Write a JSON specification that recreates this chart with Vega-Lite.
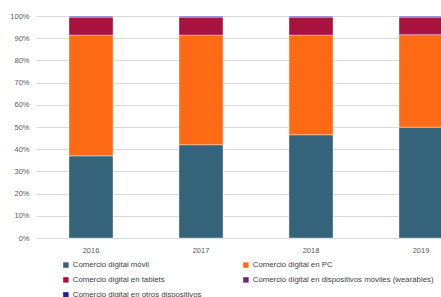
{
  "$schema": "https://vega.github.io/schema/vega-lite/v6.json",
  "width": 405,
  "height": 222,
  "autosize": {"type": "none"},
  "padding": {"left": 36, "top": 16, "right": 0, "bottom": 59},
  "background": "white",
  "config": {
    "font": "Liberation Sans",
    "view": {"stroke": null}
  },
  "data": {
    "values": [
      {"anio": "2016", "tipo": "Comercio digital móvil", "orden": 1, "valor": 37.0},
      {"anio": "2016", "tipo": "Comercio digital en PC", "orden": 2, "valor": 54.4},
      {"anio": "2016", "tipo": "Comercio digital en tablets", "orden": 3, "valor": 8.1},
      {"anio": "2016", "tipo": "Comercio digital en dispositivos móviles (wearables)", "orden": 4, "valor": 0.2},
      {"anio": "2016", "tipo": "Comercio digital en otros dispositivos", "orden": 5, "valor": 0.3},
      {"anio": "2017", "tipo": "Comercio digital móvil", "orden": 1, "valor": 42.0},
      {"anio": "2017", "tipo": "Comercio digital en PC", "orden": 2, "valor": 49.4},
      {"anio": "2017", "tipo": "Comercio digital en tablets", "orden": 3, "valor": 8.1},
      {"anio": "2017", "tipo": "Comercio digital en dispositivos móviles (wearables)", "orden": 4, "valor": 0.2},
      {"anio": "2017", "tipo": "Comercio digital en otros dispositivos", "orden": 5, "valor": 0.3},
      {"anio": "2018", "tipo": "Comercio digital móvil", "orden": 1, "valor": 46.5},
      {"anio": "2018", "tipo": "Comercio digital en PC", "orden": 2, "valor": 44.9},
      {"anio": "2018", "tipo": "Comercio digital en tablets", "orden": 3, "valor": 8.1},
      {"anio": "2018", "tipo": "Comercio digital en dispositivos móviles (wearables)", "orden": 4, "valor": 0.2},
      {"anio": "2018", "tipo": "Comercio digital en otros dispositivos", "orden": 5, "valor": 0.3},
      {"anio": "2019", "tipo": "Comercio digital móvil", "orden": 1, "valor": 49.9},
      {"anio": "2019", "tipo": "Comercio digital en PC", "orden": 2, "valor": 41.7},
      {"anio": "2019", "tipo": "Comercio digital en tablets", "orden": 3, "valor": 7.9},
      {"anio": "2019", "tipo": "Comercio digital en dispositivos móviles (wearables)", "orden": 4, "valor": 0.2},
      {"anio": "2019", "tipo": "Comercio digital en otros dispositivos", "orden": 5, "valor": 0.3}
    ]
  },
  "mark": {"type": "bar", "stroke": "white", "strokeWidth": 0.6, "strokeOpacity": 0.6},
  "encoding": {
    "x": {
      "field": "anio",
      "type": "nominal",
      "scale": {"range": [0, 440], "paddingInner": 0.6, "paddingOuter": 0.3},
      "axis": {
        "title": null,
        "labelAngle": 0,
        "ticks": false,
        "domainColor": "#d9d9d9",
        "labelColor": "#595959",
        "labelFontSize": 7.5,
        "labelPadding": 8
      }
    },
    "y": {
      "field": "valor",
      "type": "quantitative",
      "stack": "normalize",
      "scale": {"domain": [0, 1]},
      "axis": {
        "title": null,
        "format": "%",
        "values": [0, 0.1, 0.2, 0.3, 0.4, 0.5, 0.6, 0.7, 0.8, 0.9, 1],
        "labelOverlap": false,
        "ticks": false,
        "domain": false,
        "gridColor": "#d9d9d9",
        "labelColor": "#595959",
        "labelFontSize": 7.5,
        "labelPadding": 7
      }
    },
    "order": {"field": "orden", "type": "quantitative"},
    "color": {
      "field": "tipo",
      "type": "nominal",
      "sort": [
        "Comercio digital móvil",
        "Comercio digital en PC",
        "Comercio digital en tablets",
        "Comercio digital en dispositivos móviles (wearables)",
        "Comercio digital en otros dispositivos"
      ],
      "scale": {
        "domain": [
          "Comercio digital móvil",
          "Comercio digital en PC",
          "Comercio digital en tablets",
          "Comercio digital en dispositivos móviles (wearables)",
          "Comercio digital en otros dispositivos"
        ],
        "range": ["#35637a", "#ff6b14", "#a8123e", "#6b2b7c", "#1c1ca8"]
      },
      "legend": {
        "title": null,
        "orient": "none",
        "legendX": 26,
        "legendY": 245,
        "direction": "horizontal",
        "columns": 2,
        "symbolType": "square",
        "symbolSize": 30,
        "symbolStrokeWidth": 0,
        "labelFontSize": 7.8,
        "labelColor": "#404040",
        "labelLimit": 400,
        "columnPadding": 40,
        "rowPadding": 6,
        "labelOffset": 3
      }
    }
  }
}
